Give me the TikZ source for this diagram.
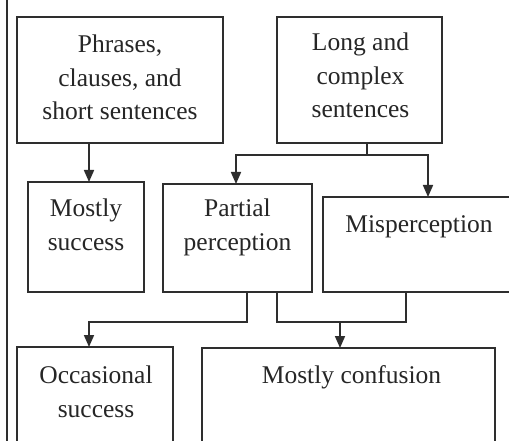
\documentclass[tikz,border=0pt]{standalone}
\usepackage{fontspec}
\setmainfont{Liberation Serif}
\usetikzlibrary{arrows.meta,calc}
\begin{document}
\begin{tikzpicture}[x=1pt,y=-1pt,
  line width=1.7pt,
  color=black!82,
  boxnode/.style={draw=black!82,line width=1.7pt,rectangle,inner sep=0pt,outer sep=0pt,anchor=north west},
  lbl/.style={anchor=north,inner sep=0pt,align=center,text=black!85,
    font=\fontsize{25.5}{33.5}\selectfont},
  arr/.style={-{Triangle[width=10pt,length=12pt]}},
]
\useasboundingbox (0,0) rectangle (509,441);
\fill[white] (0,0) rectangle (509,441);
\clip (0,0) rectangle (509,441);
% left rule
\coordinate (ruletop) at (7,-5);
\coordinate (rulebot) at (7,450);
\draw (ruletop) -- (rulebot);
% boxes
\node[boxnode,minimum width=206pt,minimum height=126pt] (b1) at (17,17) {};
\node[boxnode,minimum width=165pt,minimum height=126pt] (b2) at (277,17) {};
\node[boxnode,minimum width=116pt,minimum height=110pt] (ms) at (28,182) {};
\node[boxnode,minimum width=149pt,minimum height=108pt] (pp) at (163,184) {};
\node[boxnode,minimum width=200pt,minimum height=95pt] (mp) at (323,197) {};
\node[boxnode,minimum width=156pt,minimum height=110pt] (os) at (17,347) {};
\node[boxnode,minimum width=293pt,minimum height=110pt] (mc) at (202,348) {};
% labels
\node[lbl] (t1) at ($(b1.north)+(0,17)$) {Phrases,\\clauses, and\\short sentences};
\node[lbl] (t2) at ($(b2.north)+(1,15)$) {Long and\\complex\\sentences};
\node[lbl] (t3) at ($(ms.north)+(0,16)$) {Mostly\\success};
\node[lbl] (t4) at ($(pp.north)+(0,14)$) {Partial\\perception};
\node[lbl] (t5) at (419,215) {Misperception};
\node[lbl] (t6) at ($(os.north)+(1,18)$) {Occasional\\success};
\node[lbl] (t7) at ($(mc.north)+(3,17)$) {Mostly confusion};
% connectors
\coordinate (c1) at ($(b1.south west)+(72,0)$);
\draw[arr] (c1) -- (c1 |- ms.north);
\coordinate (s2) at ($(b2.south west)+(90,0)$);
\coordinate (l2) at (236,155);
\coordinate (r2) at (428,155);
\coordinate (j2) at (s2 |- l2);
\draw (s2) -- (j2);
\draw[arr] (j2) -- (l2) -- (l2 |- pp.north);
\draw[arr] (j2) -- (r2) -- (r2 |- mp.north);
\coordinate (p1) at ($(pp.south west)+(84,0)$);
\coordinate (p2) at ($(pp.south west)+(114,0)$);
\coordinate (h1) at (89,322);
\coordinate (hj) at (340,322);
\coordinate (m1) at (406,0);
\draw[arr] (p1) -- (p1 |- h1) -- (h1) -- (h1 |- os.north);
\draw (p2) -- (p2 |- hj) -- (m1 |- hj) -- (m1 |- mp.south);
\draw[arr] (hj) -- (hj |- mc.north);
\end{tikzpicture}
\end{document}
